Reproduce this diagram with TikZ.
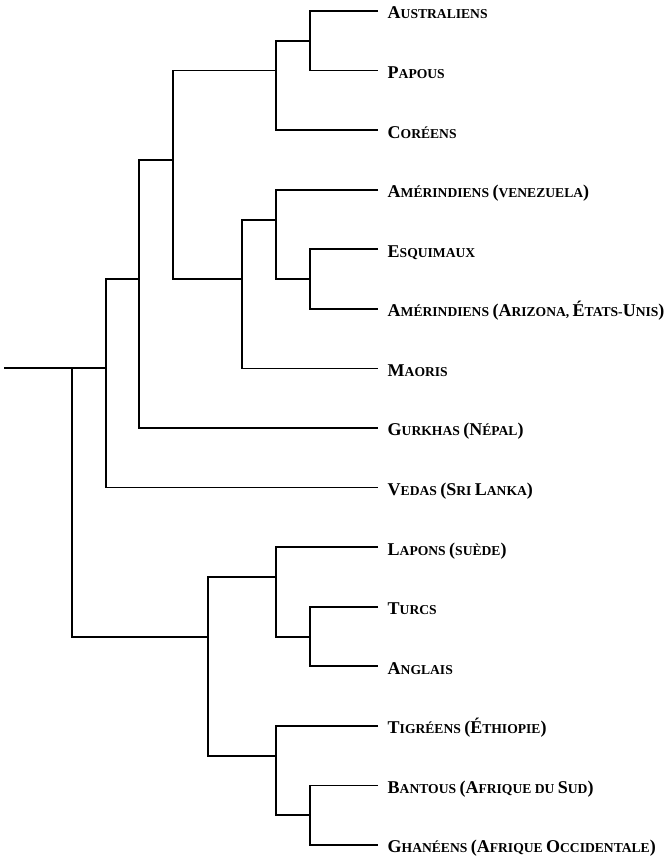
\documentclass[tikz,border=0pt]{standalone}
\usepackage{fontspec}
\setmainfont{Liberation Serif}
\newcommand\Cap[1]{{\fontsize{18}{18}\selectfont #1}}
\tikzset{
  br/.style={line width=1.7pt, line join=miter},
  lab/.style={anchor=base west, inner sep=0pt, font=\bfseries\fontsize{13.6}{14}\selectfont, xshift=9.5pt, yshift=-8pt}
}
\begin{document}
\begin{tikzpicture}[x=1pt,y=-1pt]
\useasboundingbox (0,0) rectangle (664,859);
% leaves
\foreach \i in {0,...,14} {
  \coordinate (l\i) at (378, {11+59.57*\i});
}
% internal nodes
\coordinate (A) at (310,41);
\coordinate (B) at (276,70.6);
\coordinate (C) at (310,279);
\coordinate (D) at (276,220);
\coordinate (E) at (242,279);
\coordinate (F) at (173,160);
\coordinate (G) at (139,279);
\coordinate (H) at (106,368);
\coordinate (I) at (310,637);
\coordinate (J) at (276,577);
\coordinate (K) at (310,815);
\coordinate (L) at (276,756);
\coordinate (M) at (208,637);
\coordinate (N) at (72,368);
\coordinate (root) at (4,368);
% branches
\draw[br] (l0) -- (l0 -| A) -- (l1 -| A) -- (l1);
\draw[br] (A) -- (A -| B) -- (l2 -| B) -- (l2);
\draw[br] (l4) -- (l4 -| C) -- (l5 -| C) -- (l5);
\draw[br] (l3) -- (l3 -| D) -- (C -| D) -- (C);
\draw[br] (D) -- (D -| E) -- (l6 -| E) -- (l6);
\draw[br] (B) -- (B -| F) -- (E -| F) -- (E);
\draw[br] (F) -- (F -| G) -- (l7 -| G) -- (l7);
\draw[br] (G) -- (G -| H) -- (l8 -| H) -- (l8);
\draw[br] (l10) -- (l10 -| I) -- (l11 -| I) -- (l11);
\draw[br] (l9) -- (l9 -| J) -- (I -| J) -- (I);
\draw[br] (l13) -- (l13 -| K) -- (l14 -| K) -- (l14);
\draw[br] (l12) -- (l12 -| L) -- (K -| L) -- (K);
\draw[br] (J) -- (J -| M) -- (L -| M) -- (L);
\draw[br] (H) -- (H -| N) -- (M -| N) -- (M);
\draw[br] (root) -- (N);
% labels
\node[lab] (t0) at (l0) {\Cap{A}USTRALIENS};
\node[lab] (t1) at (l1) {\Cap{P}APOUS};
\node[lab] (t2) at (l2) {\Cap{C}ORÉENS};
\node[lab] (t3) at (l3) {\Cap{A}MÉRINDIENS \Cap{(}VENEZUELA\Cap{)}};
\node[lab] (t4) at (l4) {\Cap{E}SQUIMAUX};
\node[lab] (t5) at (l5) {\Cap{A}MÉRINDIENS \Cap{(A}RIZONA, \Cap{É}TATS-\Cap{U}NIS\Cap{)}};
\node[lab] (t6) at (l6) {\Cap{M}AORIS};
\node[lab] (t7) at (l7) {\Cap{G}URKHAS \Cap{(N}ÉPAL\Cap{)}};
\node[lab] (t8) at (l8) {\Cap{V}EDAS \Cap{(S}RI \Cap{L}ANKA\Cap{)}};
\node[lab] (t9) at (l9) {\Cap{L}APONS \Cap{(}SUÈDE\Cap{)}};
\node[lab] (t10) at (l10) {\Cap{T}URCS};
\node[lab] (t11) at (l11) {\Cap{A}NGLAIS};
\node[lab] (t12) at (l12) {\Cap{T}IGRÉENS \Cap{(É}THIOPIE\Cap{)}};
\node[lab] (t13) at (l13) {\Cap{B}ANTOUS \Cap{(A}FRIQUE DU \Cap{S}UD\Cap{)}};
\node[lab] (t14) at (l14) {\Cap{G}HANÉENS \Cap{(A}FRIQUE \Cap{O}CCIDENTALE\Cap{)}};
\end{tikzpicture}
\end{document}
